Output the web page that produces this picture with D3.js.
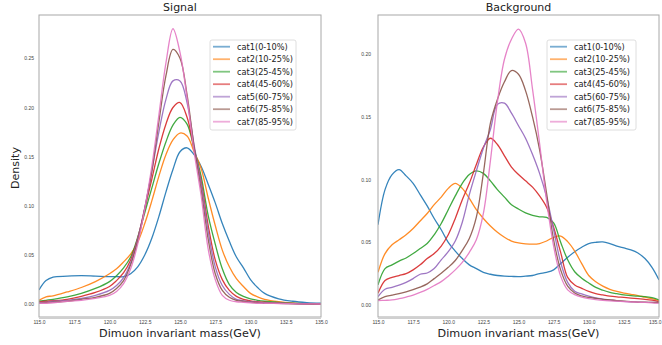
<!DOCTYPE html>
<html>
<head>
<meta charset="utf-8">
<script src="https://cdn.jsdelivr.net/npm/d3@7"></script>
<style>
  html, body { margin: 0; padding: 0; background: #fff; }
  svg { display: block; font-family: "DejaVu Sans", sans-serif; }
</style>
</head>
<body>
<div id="chart"></div>
<script>
// ---- data ----
const categories = ["cat1(0-10%)", "cat2(10-25%)", "cat3(25-45%)", "cat4(45-60%)",
  "cat5(60-75%)", "cat6(75-85%)", "cat7(85-95%)"];

const xTicks = [115, 117.5, 120, 122.5, 125, 127.5, 130, 132.5, 135];
const sigYTicks = [0, 0.05, 0.10, 0.15, 0.20, 0.25];
const bkgYTicks = [0, 0.05, 0.10, 0.15, 0.20];

// signal: mass grid (GeV)
const sigMass = [115, 115.5, 116, 117, 118, 119, 120, 120.5, 121, 121.5, 122, 122.5, 123, 123.5, 124, 124.5,
  125, 125.5, 126, 126.5, 127, 127.5, 128, 128.5, 129, 129.5, 130, 130.5, 131, 132, 133, 134, 135];
const sigCat1 = [0.0145, 0.024, 0.0275, 0.0285, 0.029, 0.0285, 0.028, 0.028, 0.028, 0.031, 0.038, 0.050, 0.067, 0.089, 0.114, 0.137,
  0.155, 0.159, 0.152, 0.140, 0.122, 0.103, 0.082, 0.064, 0.048, 0.037, 0.025, 0.017, 0.011, 0.0055, 0.003, 0.0017, 0.001];
const sigCat2 = [0.004, 0.0075, 0.0085, 0.0125, 0.017, 0.023, 0.031, 0.036, 0.043, 0.051, 0.063, 0.082, 0.105, 0.130, 0.152, 0.167,
  0.174, 0.171, 0.155, 0.138, 0.108, 0.080, 0.055, 0.038, 0.026, 0.018, 0.011, 0.0075, 0.005, 0.0025, 0.0012, 0.0006, 0.0003];
const sigCat3 = [0.003, 0.004, 0.005, 0.0075, 0.011, 0.016, 0.023, 0.029, 0.037, 0.048, 0.068, 0.093, 0.118, 0.143, 0.165, 0.182,
  0.190, 0.183, 0.158, 0.130, 0.090, 0.061, 0.036, 0.020, 0.012, 0.008, 0.0055, 0.004, 0.003, 0.0018, 0.001, 0.0006, 0.0003];
const sigCat4 = [0.002, 0.003, 0.0035, 0.005, 0.008, 0.012, 0.018, 0.024, 0.032, 0.045, 0.067, 0.097, 0.127, 0.158, 0.183, 0.200,
  0.205, 0.190, 0.158, 0.125, 0.080, 0.045, 0.025, 0.014, 0.008, 0.005, 0.0035, 0.0025, 0.002, 0.001, 0.0007, 0.0004, 0.0002];
const sigCat5 = [0.0015, 0.002, 0.003, 0.004, 0.006, 0.009, 0.014, 0.019, 0.027, 0.042, 0.066, 0.098, 0.135, 0.175, 0.208, 0.227,
  0.227, 0.205, 0.162, 0.122, 0.074, 0.038, 0.019, 0.010, 0.005, 0.0035, 0.0025, 0.002, 0.0015, 0.001, 0.0006, 0.0004, 0.0002];
const sigCat6 = [0.001, 0.0015, 0.002, 0.003, 0.005, 0.007, 0.011, 0.016, 0.024, 0.040, 0.064, 0.097, 0.135, 0.185, 0.232, 0.259,
  0.250, 0.213, 0.160, 0.116, 0.066, 0.031, 0.014, 0.007, 0.004, 0.003, 0.002, 0.0015, 0.001, 0.0008, 0.0005, 0.0003, 0.0002];
const sigCat7 = [0.001, 0.001, 0.0015, 0.003, 0.004, 0.006, 0.009, 0.013, 0.021, 0.036, 0.061, 0.097, 0.140, 0.192, 0.245, 0.280,
  0.256, 0.210, 0.155, 0.110, 0.056, 0.025, 0.009, 0.004, 0.0025, 0.002, 0.0015, 0.001, 0.001, 0.0007, 0.0005, 0.0003, 0.0002];

// background: mass grid (GeV), 0.5 steps
const bkgMass = [115, 115.5, 116, 116.5, 117, 117.5, 118, 118.5, 119, 119.5, 120, 120.5, 121, 121.5, 122, 122.5,
  123, 123.5, 124, 124.5, 125, 125.5, 126, 126.5, 127, 127.5, 128, 128.5, 129, 129.5, 130, 130.5,
  131, 131.5, 132, 132.5, 133, 133.5, 134, 134.5, 135];
const bkgCat1 = [0.064, 0.092, 0.104, 0.108, 0.103, 0.097, 0.088, 0.079, 0.069, 0.060, 0.050, 0.043, 0.037, 0.032, 0.029, 0.026,
  0.0245, 0.0235, 0.023, 0.0228, 0.0226, 0.023, 0.0235, 0.025, 0.026, 0.028, 0.033, 0.038, 0.0425, 0.046, 0.049, 0.050,
  0.0503, 0.049, 0.047, 0.0455, 0.044, 0.0415, 0.037, 0.030, 0.020];
const bkgCat2 = [0.026, 0.041, 0.048, 0.052, 0.056, 0.061, 0.067, 0.073, 0.080, 0.086, 0.093, 0.097, 0.093, 0.085, 0.076, 0.069,
  0.063, 0.058, 0.054, 0.051, 0.0495, 0.0488, 0.0485, 0.049, 0.051, 0.054, 0.055, 0.0505, 0.043, 0.033, 0.0235, 0.0185,
  0.015, 0.0125, 0.0108, 0.0095, 0.0085, 0.0075, 0.0062, 0.005, 0.0035];
const bkgCat3 = [0.016, 0.029, 0.032, 0.035, 0.0375, 0.041, 0.045, 0.049, 0.056, 0.065, 0.076, 0.087, 0.097, 0.104, 0.107, 0.105,
  0.099, 0.092, 0.086, 0.080, 0.0765, 0.0735, 0.0715, 0.0703, 0.0698, 0.0655, 0.050, 0.036, 0.0265, 0.0213, 0.0175, 0.014,
  0.0118, 0.010, 0.009, 0.008, 0.0075, 0.007, 0.0067, 0.0058, 0.004];
const bkgCat4 = [0.0093, 0.0195, 0.022, 0.0235, 0.025, 0.028, 0.032, 0.037, 0.041, 0.047, 0.056, 0.069, 0.084, 0.097, 0.112, 0.126,
  0.133, 0.128, 0.119, 0.110, 0.104, 0.099, 0.094, 0.087, 0.078, 0.062, 0.042, 0.022, 0.016, 0.0133, 0.0108, 0.009,
  0.008, 0.007, 0.0064, 0.006, 0.0055, 0.005, 0.0045, 0.0038, 0.0027];
const bkgCat5 = [0.0066, 0.0125, 0.014, 0.0158, 0.018, 0.021, 0.0245, 0.0255, 0.029, 0.036, 0.0425, 0.051, 0.066, 0.088, 0.107, 0.125,
  0.140, 0.160, 0.161, 0.153, 0.143, 0.133, 0.120, 0.105, 0.086, 0.060, 0.034, 0.018, 0.011, 0.0088, 0.007, 0.0056,
  0.0047, 0.004, 0.0033, 0.0028, 0.0025, 0.0023, 0.0021, 0.002, 0.002];
const bkgCat6 = [0.004, 0.0067, 0.0078, 0.009, 0.0105, 0.0122, 0.0142, 0.0168, 0.021, 0.0253, 0.030, 0.0355, 0.0435, 0.053, 0.070, 0.105,
  0.145, 0.164, 0.178, 0.187, 0.184, 0.171, 0.150, 0.124, 0.089, 0.052, 0.028, 0.015, 0.0095, 0.0072, 0.006, 0.0052,
  0.0045, 0.004, 0.0035, 0.003, 0.0026, 0.0023, 0.0022, 0.002, 0.002];
const bkgCat7 = [0.0035, 0.0037, 0.004, 0.005, 0.0063, 0.0078, 0.010, 0.0125, 0.0155, 0.0186, 0.023, 0.028, 0.034, 0.042, 0.052, 0.073,
  0.115, 0.162, 0.196, 0.212, 0.220, 0.209, 0.172, 0.129, 0.083, 0.047, 0.023, 0.012, 0.0082, 0.0062, 0.005, 0.0043,
  0.0037, 0.0033, 0.003, 0.0027, 0.0025, 0.0022, 0.002, 0.0017, 0.0013];

const palette = ["#1f77b4", "#ff7f0e", "#2ca02c", "#d62728", "#9467bd", "#8c564b", "#e377c2"];

const width = 662, height = 345;

const svg = d3.select("#chart").append("svg")
  .attr("width", width)
  .attr("height", height);

function drawPanel(cfg) {
  const x = d3.scaleLinear().domain([115, 135]).range([cfg.left, cfg.right]);
  const y = d3.scaleLinear().domain(cfg.yDomain).range([cfg.bottom, cfg.top]);
  const g = svg.append("g");

  g.append("clipPath")
    .attr("id", cfg.id + "-clip")
    .append("rect")
    .attr("x", cfg.left).attr("y", cfg.top)
    .attr("width", cfg.right - cfg.left).attr("height", cfg.bottom - cfg.top);

  // axes
  const xAxis = g.append("g")
    .attr("transform", `translate(0,${cfg.bottom})`)
    .call(d3.axisBottom(x).tickValues(xTicks).tickFormat(d3.format(".1f")).tickSize(0).tickPadding(3));
  const yAxis = g.append("g")
    .attr("transform", `translate(${cfg.left},0)`)
    .call(d3.axisLeft(y).tickValues(cfg.yTicks).tickFormat(d3.format(".2f")).tickSize(0).tickPadding(cfg.yPad));
  [xAxis, yAxis].forEach(a => {
    a.select(".domain").remove();
    a.selectAll("text").style("font-size", "5px").attr("fill", "#444");
  });
  // keep the last x label inside the window
  if (cfg.right > width - 8) {
    xAxis.selectAll(".tick:last-of-type text").attr("text-anchor", "end").attr("dx", 2);
  }

  // curves
  const line = d3.line()
    .x((d, i) => x(cfg.mass[i]))
    .y(d => y(d))
    .curve(d3.curveCatmullRom.alpha(0.5));

  g.append("g")
    .attr("clip-path", `url(#${cfg.id}-clip)`)
    .selectAll("path")
    .data(cfg.series)
    .join("path")
    .attr("fill", "none")
    .attr("stroke", (d, i) => palette[i])
    .attr("stroke-width", 1.3)
    .attr("stroke-opacity", 0.9)
    .attr("d", line);

  // frame
  g.append("rect")
    .attr("x", cfg.left).attr("y", cfg.top)
    .attr("width", cfg.right - cfg.left).attr("height", cfg.bottom - cfg.top)
    .attr("fill", "none")
    .attr("stroke", "#a8a8a8")
    .attr("stroke-width", 1);
  g.append("line")
    .attr("x1", cfg.left).attr("x2", cfg.right)
    .attr("y1", cfg.bottom + 1).attr("y2", cfg.bottom + 1)
    .attr("stroke", "#d0d0d0").attr("stroke-width", 2);

  // title and x label
  g.append("text")
    .attr("x", (cfg.left + cfg.right) / 2).attr("y", 11)
    .attr("text-anchor", "middle")
    .style("font-size", "11px")
    .attr("fill", "#222")
    .text(cfg.title);
  g.append("text")
    .attr("x", (cfg.left + cfg.right) / 2).attr("y", 337)
    .attr("text-anchor", "middle")
    .style("font-size", "11.2px")
    .attr("fill", "#222")
    .text("Dimuon invariant mass(GeV)");

  // legend
  const lg = g.append("g").attr("transform", `translate(${cfg.legendX},40)`);
  lg.append("rect")
    .attr("width", cfg.legendW).attr("height", 90)
    .attr("rx", 2)
    .attr("fill", "#fff")
    .attr("stroke", "#d6d6d6")
    .attr("stroke-width", 0.8);
  const rows = lg.selectAll("g.row")
    .data(categories)
    .join("g")
    .attr("class", "row")
    .attr("transform", (d, i) => `translate(0,${6.7 + i * 12.5})`);
  rows.append("line")
    .attr("x1", 3).attr("x2", 20)
    .attr("stroke", (d, i) => palette[i])
    .attr("stroke-width", 1.8)
    .attr("stroke-opacity", 0.6);
  rows.append("text")
    .attr("x", 27)
    .attr("dy", "0.35em")
    .style("font-size", "8.2px")
    .attr("fill", "#222")
    .text(d => d);
}

drawPanel({
  id: "sig", title: "Signal",
  left: 39, right: 321, top: 15, bottom: 317,
  yDomain: [-0.013, 0.294], yTicks: sigYTicks, yPad: 5,
  mass: sigMass,
  series: [sigCat1, sigCat2, sigCat3, sigCat4, sigCat5, sigCat6, sigCat7],
  legendX: 210, legendW: 86
});

drawPanel({
  id: "bkg", title: "Background",
  left: 378, right: 659, top: 15, bottom: 317,
  yDomain: [-0.0096, 0.2313], yTicks: bkgYTicks, yPad: 7,
  mass: bkgMass,
  series: [bkgCat1, bkgCat2, bkgCat3, bkgCat4, bkgCat5, bkgCat6, bkgCat7],
  legendX: 547, legendW: 89
});

svg.append("text")
  .attr("transform", "translate(19,168) rotate(-90)")
  .attr("text-anchor", "middle")
  .style("font-size", "11px")
  .attr("fill", "#222")
  .text("Density");
</script>
</body>
</html>
